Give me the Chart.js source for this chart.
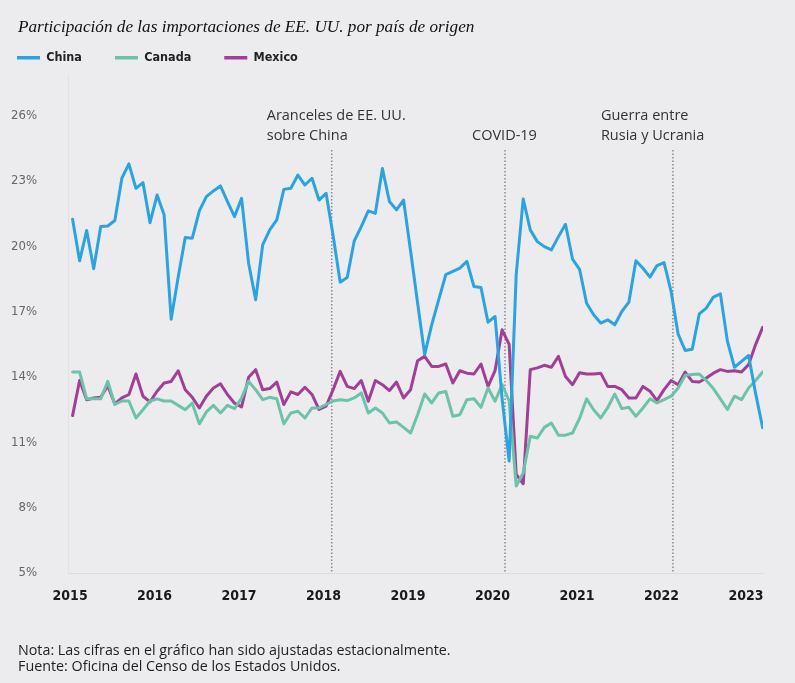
<!DOCTYPE html>
<html>
<head>
<meta charset="utf-8">
<script src="https://cdn.jsdelivr.net/npm/chart.js@4.4.1/dist/chart.umd.min.js"></script>
<style>
  body { margin: 0; background: #ececef; }
  #wrap { position: relative; width: 795px; height: 683px; background: #ececef; }
</style>
</head>
<body>
<div id="wrap"><canvas id="myChart"></canvas></div>
<script>
// Monthly share of US imports (%), Jan 2015 - Mar 2023
let startYear = 2015;
let china = [21.25, 19.34, 20.73, 18.97, 20.91, 20.94, 21.19, 23.13, 23.79, 22.67, 22.93, 21.09,
  22.36, 21.45, 16.66, 18.6, 20.41, 20.38, 21.63, 22.29, 22.55, 22.78, 22.06, 21.37,
  22.21, 19.23, 17.55, 20.07, 20.76, 21.22, 22.62, 22.67, 23.28, 22.82, 23.13, 22.13,
  22.44, 20.5, 18.36, 18.57, 20.25, 20.91, 21.63, 21.52, 23.58, 22.06, 21.68, 22.13,
  19.8, 17.4, 15.03, 16.4, 17.56, 18.7, 18.85, 19.0, 19.31, 18.16, 18.11, 16.52,
  16.78, 13.0, 10.14, 18.7, 22.18, 20.76, 20.22, 19.99, 19.84, 20.45, 21.02, 19.42,
  18.95, 17.39, 16.86, 16.48, 16.63, 16.4, 17.01, 17.44, 19.34, 19.0, 18.59, 19.12,
  19.26, 17.93, 15.97, 15.22, 15.28, 16.9, 17.17, 17.67, 17.82, 15.64, 14.45, 14.72,
  14.99, 13.25, 11.67];
let canada = [14.23, 14.23, 13.0, 13.0, 13.0, 13.8, 12.74, 12.9, 12.9, 12.12, 12.5, 12.9,
  13.0, 12.9, 12.9, 12.7, 12.5, 12.8, 11.85, 12.4, 12.7, 12.35, 12.7, 12.55,
  13.04, 13.8, 13.42, 12.96, 13.07, 13.0, 11.85, 12.35, 12.43, 12.12, 12.58, 12.58,
  12.74, 12.9, 12.96, 12.92, 13.04, 13.27, 12.35, 12.58, 12.35, 11.89, 11.94, 11.69,
  11.43, 12.27, 13.22, 12.81, 13.27, 13.34, 12.2, 12.27, 12.96, 13.0, 12.61, 13.5,
  12.89, 13.65, 12.9, 9.0, 9.6, 11.28, 11.2, 11.69, 11.89, 11.33, 11.33, 11.43,
  12.1, 13.0, 12.5, 12.12, 12.6, 13.22, 12.55, 12.61, 12.2, 12.58, 13.0, 12.81,
  12.96, 13.12, 13.5, 14.08, 14.12, 14.14, 13.84, 13.47, 13.0, 12.51, 13.12, 12.96,
  13.5, 13.84, 14.23];
let mexico = [12.23, 13.84, 12.96, 13.04, 13.07, 13.6, 12.77, 13.04, 13.2, 14.14, 13.12, 12.86,
  13.35, 13.73, 13.8, 14.29, 13.42, 13.07, 12.58, 13.12, 13.5, 13.69, 13.2, 12.8,
  12.63, 13.99, 14.34, 13.42, 13.47, 13.77, 12.74, 13.32, 13.2, 13.53, 13.2, 12.51,
  12.66, 13.42, 14.26, 13.57, 13.47, 13.84, 12.89, 13.84, 13.65, 13.38, 13.77, 13.04,
  13.42, 14.75, 14.95, 14.49, 14.49, 14.6, 13.73, 14.29, 14.18, 14.14, 14.6, 13.57,
  14.3, 16.17, 15.5, 9.53, 9.1, 14.34, 14.42, 14.54, 14.45, 14.95, 14.03, 13.65,
  14.2, 14.14, 14.14, 14.18, 13.57, 13.57, 13.42, 13.04, 13.04, 13.57, 13.35, 12.92,
  13.42, 13.84, 13.65, 14.23, 13.8, 13.77, 13.96, 14.18, 14.34, 14.26, 14.29, 14.23,
  14.57, 15.49, 16.28];

let yearTicks = [2015, 2016, 2017, 2018, 2019, 2020, 2021, 2022, 2023];
let pctTicks = [5, 8, 11, 14, 17, 20, 23, 26];

// events marked with dotted lines (decimal year)
let eventDates = [2018.096, 2020.147, 2022.134];
let eventLabels = [["Aranceles de EE. UU.", "sobre China"], ["", "COVID-19"], ["Guerra entre", "Rusia y Ucrania"]];
let eventLabelShift = [-65, -33, -72];

let titleText = "Participación de las importaciones de EE. UU. por país de origen";
let notes = ["Nota: Las cifras en el gráfico han sido ajustadas estacionalmente.",
  "Fuente: Oficina del Censo de los Estados Unidos."];

const narrow = "'DejaVu Sans Condensed', Roboto, sans-serif";

function toPoints(arr) {
  return arr.map((v, i) => ({ x: startYear + (i + 0.35) / 12, y: v }));
}

const extras = {
  id: "extras",
  beforeDatasetsDraw(chart) {
    const ctx = chart.ctx;
    const xs = chart.scales.x;
    const bottom = chart.chartArea.bottom;
    ctx.save();
    ctx.strokeStyle = "#8a8a8e";
    ctx.lineWidth = 1.5;
    ctx.setLineDash([1.5, 2]);
    ctx.fillStyle = "#333";
    ctx.font = "14.5px 'Open Sans'";
    ctx.textBaseline = "middle";
    eventDates.forEach((d, k) => {
      const px = xs.getPixelForValue(d);
      ctx.beginPath();
      ctx.moveTo(px, 150);
      ctx.lineTo(px, bottom);
      ctx.stroke();
      ctx.fillText(eventLabels[k][0], px + eventLabelShift[k], 116);
      ctx.fillText(eventLabels[k][1], px + eventLabelShift[k], 136);
    });
    ctx.restore();
  },
  afterDraw(chart) {
    const ctx = chart.ctx;
    ctx.save();
    ctx.textBaseline = "middle";
    ctx.fillStyle = "#111";
    ctx.font = "italic 17.2px 'Liberation Serif'";
    ctx.fillText(titleText, 18, 27);
    ctx.fillStyle = "#222";
    ctx.font = "14.3px 'Open Sans'";
    ctx.fillText(notes[0], 18, 651);
    ctx.fillText(notes[1], 18, 667);
    ctx.restore();
  }
};

new Chart("myChart", {
  type: "line",
  data: {
    datasets: [
      { label: "China", data: toPoints(china), borderColor: "#2ba3df", backgroundColor: "#2ba3df" },
      { label: "Canada", data: toPoints(canada), borderColor: "#6cc3a9", backgroundColor: "#6cc3a9" },
      { label: "Mexico", data: toPoints(mexico), borderColor: "#a03f95", backgroundColor: "#a03f95" }
    ]
  },
  options: {
    responsive: true,
    maintainAspectRatio: false,
    animation: false,
    layout: { padding: { top: 18.5, left: -16, right: 32, bottom: 80 } },
    elements: {
      line: { borderWidth: 3, tension: 0, borderJoinStyle: "round", borderCapStyle: "round" },
      point: { radius: 0 }
    },
    plugins: {
      legend: {
        align: "start",
        labels: {
          usePointStyle: true,
          pointStyle: "line",
          pointStyleWidth: 23,
          padding: 33,
          color: "#222",
          font: { family: narrow, size: 12.5, weight: "bold" },
          generateLabels: chart => Chart.defaults.plugins.legend.labels.generateLabels(chart)
            .map(item => Object.assign(item, { lineWidth: 3.5 }))
        }
      },
      tooltip: { enabled: false }
    },
    scales: {
      x: {
        type: "linear",
        min: 2014.975,
        max: 2023.2,
        grid: { display: false },
        border: { color: "#dcdce0" },
        afterBuildTicks: s => { s.ticks = yearTicks.map(v => ({ value: v })); },
        afterFit: s => { s.height = 30; },
        ticks: {
          padding: 7,
          color: "#1a1a1a",
          font: { family: narrow, size: 14, weight: "bold" },
          callback: v => String(v)
        }
      },
      y: {
        min: 5,
        max: 27.92,
        grid: { display: false },
        border: { color: "#e2e2e6" },
        afterBuildTicks: s => { s.ticks = pctTicks.map(v => ({ value: v })); },
        afterFit: s => { s.width = 84; },
        ticks: {
          padding: 23,
          color: "#666",
          font: { family: narrow, size: 13 },
          callback: v => v + "%"
        }
      }
    }
  },
  plugins: [extras]
});
</script>
</body>
</html>
